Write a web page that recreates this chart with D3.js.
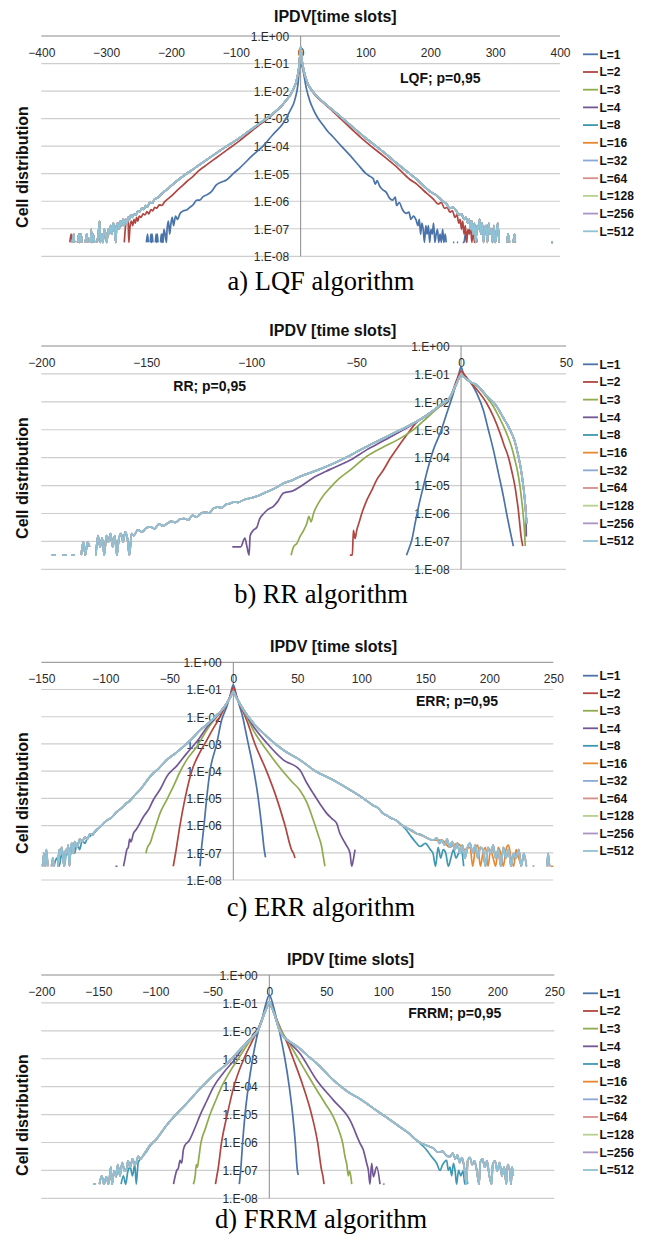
<!DOCTYPE html>
<html>
<head>
<meta charset="utf-8">
<script src="https://cdn.jsdelivr.net/npm/d3@7"></script>
<style>
  body { margin: 0; background: #fff; }
  svg text { font-family: "Liberation Sans", Arial, sans-serif; }
  svg text.caption { font-family: "Liberation Serif", "Times New Roman", serif; }
</style>
</head>
<body>
<script>
// ---- shared labels ----
const legendLabels = ["L=1", "L=2", "L=3", "L=4", "L=8", "L=16", "L=32", "L=64", "L=128", "L=256", "L=512"];
const seriesColors = ["#4a73aa", "#b04642", "#8fab4e", "#725796", "#3f98b3", "#e8872f",
                      "#8aa8d8", "#d68e8b", "#b6d08f", "#a895c4", "#8fc2d4"];
const yTickValues = [1, 1e-1, 1e-2, 1e-3, 1e-4, 1e-5, 1e-6, 1e-7, 1e-8];

// ---- a) LQF : [IPDV, cell distribution], null = no cells ----
const lqfL1 = [[-238,3.2e-8],[-236,6.4e-8],[-235,3.2e-8],[-234,null],[-232,3.2e-8],[-231,6.4e-8],[-230,3.2e-8],[-229,6.4e-8],[-228,3.2e-8],[-227,null],
  [-224,3.2e-8],[-223,6.4e-8],[-222,3.2e-8],[-221,6.4e-8],[-220,3.2e-8],[-219,null],[-216,3.2e-8],[-215,6.4e-8],[-214,3.2e-8],[-213,6.4e-8],[-212,3.2e-8],
  [-211,9.6e-8],[-209,6.4e-8],[-207,3.2e-8],[-206,9.6e-8],[-204,1.9e-7],[-202,6.4e-8],[-200,1.6e-7],[-198,2.6e-7],[-196,1.3e-7],[-193,2.9e-7],[-190,2.2e-7],
  [-186,3.6e-7],[-181,4.5e-7],[-176,4.8e-7],[-171,6e-7],[-166,7.4e-7],[-160,1.1e-6],[-155.6,1.1e-6],[-150,1.5e-6],[-145,1.7e-6],[-138,2.2e-6],[-130,3.9e-6],
  [-122,5e-6],[-114.5,5.9e-6],[-104,1e-5],[-94,1.6e-5],[-73.5,4.8e-5],[-58,1e-4],[-43,2.6e-4],[-27,6.8e-4],[-17,1.8e-3],[-9,4.8e-3],[-4,0.019],[-1.5,0.1],[0,0.4],
  [1.5,0.1],[3.6,0.059],[8.8,0.0126],[14,0.0045],[19,0.0023],[26,1.1e-3],[34.4,5.9e-4],[42,3.4e-4],[49.8,2.2e-4],[62,1.05e-4],[75.5,4.8e-5],[88,2.2e-5],
  [101,1e-5],[107,8e-6],[112,6.6e-6],[115,4.2e-6],[118,5.6e-6],[122,3.5e-6],[126.8,2.6e-6],[132,2.1e-6],[137,1.3e-6],[142,1.1e-6],[146,1.4e-6],[148,7e-7],
  [152,9e-7],[157,5e-7],[162.8,3.6e-7],[167,4e-7],[170,2.2e-7],[174,2.9e-7],[178,2.1e-7],[181,1.3e-7],[183,2.2e-7],[185,6.4e-8],[187,1.6e-7],[189,9.6e-8],
  [191,3.2e-8],[193,1.3e-7],[195,6.4e-8],[197,1.3e-7],[199,3.2e-8],[201,9.6e-8],[203,6.4e-8],[205,1.6e-7],[207,3.2e-8],[209,6.4e-8],[211,9.6e-8],[213,3.2e-8],
  [215,6.4e-8],[217,3.2e-8],[219,9.6e-8],[221,3.2e-8],[223,6.4e-8],[224.5,3.2e-8],[226,null],[235,3.2e-8],[237,3.2e-8],[238,null],[241,3.2e-8],[243,3.2e-8],
  [244,null],[250,3.2e-8],[252,3.2e-8],[254,6.4e-8],[256,3.2e-8]];
const lqfL2 = [[-356,3.2e-8],[-354,6.4e-8],[-352,3.2e-8],[-351,null],[-272,3.2e-8],[-270,1.3e-7],[-268,2.2e-7],[-266,1.6e-7],[-265,3.2e-8],[-263,1.3e-7],
  [-261,1.9e-7],[-259,1.3e-7],[-257,2.2e-7],[-255,1.6e-7],[-253,2.6e-7],[-251,1.9e-7],[-249,2.9e-7],[-246,2.6e-7],[-243,3.5e-7],[-240,3.2e-7],[-237,4.2e-7],
  [-234,3.5e-7],[-231,5e-7],[-228,4.5e-7],[-225,6e-7],[-222,5.6e-7],[-218,7.4e-7],[-214,7e-7],[-210,9.5e-7],[-207,1.1e-6],[-200,1.5e-6],[-192,2.3e-6],
  [-184,3.4e-6],[-176,5.1e-6],[-166,8e-6],[-156,1.35e-5],[-145,2.1e-5],[-130,3.8e-5],[-114,7.2e-5],[-97,1.4e-4],[-80,2.9e-4],[-65,5.6e-4],[-53,9e-4],
  [-43,1.4e-3],[-35,2.1e-3],[-28,3.1e-3],[-22,4.7e-3],[-16,7.1e-3],[-12,0.011],[-8,0.018],[-4,0.044],[-2,0.1],[0,0.4],
  [2,0.13],[3.6,0.075],[8.8,0.024],[19,0.0089],[35,0.0037],[50,0.0018],[75,5e-4],[101,1.4e-4],[127,4.5e-5],[150,1.6e-5],[168,6.3e-6],[180,4e-6],[190,2.4e-6],
  [200,1.5e-6],[206,1.1e-6],[212,8e-7],[217,9e-7],[222,5.5e-7],[226,6e-7],[230,4e-7],[234,4.5e-7],[238,2.6e-7],[241,3.2e-7],[244,1.6e-7],[246,2.2e-7],
  [248,9.6e-8],[250,1.9e-7],[252,6.4e-8],[254,1.3e-7],[256,3.2e-8],[258,9.6e-8],[260,6.4e-8],[262,1.3e-7],[264,3.2e-8],[266,9.6e-8],[268,3.2e-8],[270,6.4e-8],[272,3.2e-8]];
const lqfRest = [[-352,3.2e-8],[-350,6.4e-8],[-349,3.2e-8],[-348,null],[-344,3.2e-8],[-342,6.4e-8],[-341,3.2e-8],[-339,6.4e-8],[-337,3.2e-8],[-336,null],
  [-332,3.2e-8],[-330,6.4e-8],[-328,3.2e-8],[-327,null],[-324,3.2e-8],[-323,9.6e-8],[-322,3.2e-8],[-320,6.4e-8],[-318,3.2e-8],[-317,null],[-314,3.2e-8],
  [-312,6.4e-8],[-310,1.9e-7],[-309,3.2e-8],[-307,6.4e-8],[-305,3.2e-8],[-303,9.6e-8],[-301,6.4e-8],[-299,3.2e-8],[-297,9.6e-8],[-295,6.4e-8],[-293,1.3e-7],
  [-291,6.4e-8],[-289,1.6e-7],[-287,9.6e-8],[-285,3.2e-8],[-284,1.3e-7],[-282,1.6e-7],[-280,9.6e-8],[-278,1.9e-7],[-276,1.3e-7],[-274,2.2e-7],[-272,1.3e-7],
  [-270,2.2e-7],[-268,1.6e-7],[-266,2.6e-7],[-264,2.2e-7],[-262,3.2e-7],[-260,2.6e-7],[-257,3.5e-7],[-254,3.2e-7],[-251,4.5e-7],[-248,4.2e-7],[-245,5.5e-7],
  [-242,5e-7],[-239,7e-7],[-236,6.3e-7],[-233,9e-7],[-229,8.5e-7],[-225,1.2e-6],[-221,1.3e-6],[-216,1.7e-6],[-211,2.2e-6],[-206,2.7e-6],[-200,3.6e-6],
  [-192,5.2e-6],[-184,7.3e-6],[-176,1e-5],[-165,1.5e-5],[-155,2.2e-5],[-145,3.2e-5],[-130,5.6e-5],[-114,1e-4],[-97,1.8e-4],[-80,3.5e-4],[-65,6.3e-4],
  [-53,1e-3],[-43,1.5e-3],[-35,2.2e-3],[-28,3.2e-3],[-22,4.8e-3],[-16,7.2e-3],[-12,0.011],[-8,0.018],[-4,0.044],[-2,0.1],[0,0.4],
  [2,0.13],[3.6,0.078],[8.8,0.025],[19,0.0095],[35,0.004],[50,0.002],[75,6.3e-4],[101,1.9e-4],[127,6.3e-5],[150,2.2e-5],[168,1e-5],[180,6e-6],[190,3.5e-6],
  [200,2.2e-6],[210,1.6e-6],[219,1e-6],[225,8e-7],[230,5.5e-7],[235,6e-7],[240,4.5e-7],[244,3.2e-7],[248,3.5e-7],[252,2.2e-7],[255,2.6e-7],[258,1.6e-7],
  [260,2.2e-7],[262,9.6e-8],[264,1.9e-7],[266,6.4e-8],[268,1.6e-7],[270,3.2e-8],[272,1.3e-7],[274,9.6e-8],[276,2.2e-7],[278,6.4e-8],[280,1.6e-7],[282,3.2e-8],
  [284,9.6e-8],[286,1.3e-7],[288,3.2e-8],[290,1.6e-7],[292,6.4e-8],[294,9.6e-8],[296,3.2e-8],[298,1.3e-7],[300,3.2e-8],[302,6.4e-8],[304,1.6e-7],[306,3.2e-8],
  [307,null],[318,3.2e-8],[320,6.4e-8],[322,3.2e-8],[323,null],[328,3.2e-8],[330,6.4e-8],[331,3.2e-8],[332,null],[387,3.2e-8],[389,3.2e-8]];

// ---- b) RR ----
const rrL1 = [[-26,3.2e-8],[-24.5,6.4e-8],[-23.5,1.1e-7],[-21.9,4.4e-7],[-20.3,1.7e-6],[-18,9.1e-6],[-15.6,4.7e-5],[-13.2,1.9e-4],[-10,7.4e-4],
  [-6.8,3.9e-3],[-3.7,0.02],[-1.3,0.081],[0,0.18],[1,0.11],[2.5,0.07],[4.3,0.052],[7.5,0.02],[10.6,5.1e-3],[13,1e-3],[15.4,1.9e-4],[17.8,2.8e-5],
  [20.2,4e-6],[21.7,1e-6],[23.3,2.5e-7],[24.9,6.8e-8]];
const rrL2 = [[-53,3.2e-8],[-51.8,3.2e-8],[-51.3,2.5e-7],[-50.5,1.26e-7],[-49.7,2.5e-7],[-48.5,5e-7],[-47.3,1e-6],[-44.9,3e-6],[-42.5,6.9e-6],
  [-40.2,1.6e-5],[-37,3.6e-5],[-33.8,9.3e-5],[-30.6,2.1e-4],[-26,6.3e-4],[-21,1.9e-3],[-16,3.5e-3],[-12,5.6e-3],[-8,8.9e-3],[-5.2,0.014],[-2,0.063],
  [0,0.126],[2,0.085],[4.3,0.052],[8,0.025],[12.2,8.9e-3],[15.4,3e-3],[18.6,7.4e-4],[20.5,2.8e-4],[22.5,1.07e-4],[24.2,3.2e-5],[25.7,9.1e-6],[26.6,3.2e-6],
  [27.3,1.3e-6],[28,4e-7],[28.6,1.5e-7],[29.4,6.8e-8]];
const rrL3 = [[-81,3.2e-8],[-79.8,6.4e-8],[-78.2,8.5e-8],[-76.7,1.5e-7],[-75,2.5e-7],[-73.5,4.4e-7],[-72.5,7.9e-7],[-71.5,5e-7],[-70.3,1e-6],
  [-67.1,3e-6],[-62,9e-6],[-58,1.8e-5],[-53,3.5e-5],[-45,1.1e-4],[-37,2.4e-4],[-29,4.9e-4],[-22,1.1e-3],[-16,2.8e-3],[-10,7e-3],[-5.2,0.014],[-2.1,0.046],
  [0,0.091],[2,0.07],[4.3,0.052],[8,0.035],[11.5,0.017],[15.4,6.8e-3],[18.5,2.5e-3],[21.7,7.4e-4],[24,2.5e-4],[25.7,8.1e-5],[27,3e-5],[28.1,9.1e-6],
  [29,2.5e-6],[29.7,7.6e-7],[30.2,2.5e-7],[30.6,6.8e-8]];
const rrL4 = [[-109,6.4e-8],[-105,6.4e-8],[-103,1.3e-7],[-102,6.4e-8],[-101,3.2e-8],[-100.5,1.6e-7],[-99,2.5e-7],[-97.3,3.2e-7],[-96,6.3e-7],
  [-94,1e-6],[-92,1.4e-6],[-89.4,1.8e-6],[-87.5,2.6e-6],[-84.6,5.4e-6],[-80,6.5e-6],[-76.7,9.1e-6],[-70,2e-5],[-62.4,3.8e-5],[-53,8e-5],[-45,1.9e-4],
  [-37,4e-4],[-29,8.7e-4],[-22.7,1.6e-3],[-16.3,3.3e-3],[-10,7.6e-3],[-5.2,0.015],[-2.1,0.046],[0,0.091],[2,0.07],[4.3,0.052],[7.5,0.04],[12,0.017],
  [17,6.8e-3],[20,2.8e-3],[23.3,1e-3],[25.5,4e-4],[27.3,1.15e-4],[28.5,4e-5],[29.7,9e-6],[30.5,2.5e-6],[30.9,1e-6],[31.1,1.5e-7]];
const rrRest = [[-195,3.2e-8],[-193,3.2e-8],[-192,null],[-190,3.2e-8],[-188,3.2e-8],[-187,null],[-185.5,3.2e-8],[-184,3.2e-8],[-183,null],
  [-181,3.2e-8],[-180,9.6e-8],[-179,3.2e-8],[-178,9.6e-8],[-177,6.4e-8],[-176,null],[-174,3.2e-8],[-173,1.6e-7],[-172,6.4e-8],[-171,1.3e-7],[-170,3.2e-8],
  [-169,1.6e-7],[-168,9.6e-8],[-167,1.9e-7],[-166,6.4e-8],[-165,1.6e-7],[-164,3.2e-8],[-163,1.3e-7],[-162,1.9e-7],[-161,9.6e-8],[-160,2.2e-7],[-159,1.3e-7],
  [-158,3.2e-8],[-157,1.9e-7],[-156,1.6e-7],[-154,2.6e-7],[-152,2.2e-7],[-150,3e-7],[-148,3.3e-7],[-146,2.8e-7],[-144,4.2e-7],[-142,3.6e-7],[-140,4.4e-7],
  [-138,5.2e-7],[-136,4.8e-7],[-134,6.2e-7],[-132,6.6e-7],[-130,5.8e-7],[-128,8.5e-7],[-126,7.5e-7],[-124,1e-6],[-122,1.1e-6],[-120,1.05e-6],[-118,1.5e-6],
  [-116,1.7e-6],[-114,1.6e-6],[-112,2.1e-6],[-110,2.3e-6],[-108,2.6e-6],[-106,2.5e-6],[-104,3e-6],[-100.5,3.5e-6],[-96,4.5e-6],[-92.5,6e-6],[-88,8.5e-6],
  [-84.6,1.2e-5],[-80,1.6e-5],[-76.7,2.1e-5],[-68.7,3.5e-5],[-60.8,6.2e-5],[-52.9,1.2e-4],[-44.9,2.5e-4],[-37,4.9e-4],[-29,9.8e-4],[-22.7,1.7e-3],
  [-16.3,3.3e-3],[-10,7.6e-3],[-5.2,0.015],[-2.1,0.046],[0,0.091],[2,0.07],[4.3,0.052],[7.5,0.04],[12,0.017],[17,6.8e-3],[20,2.8e-3],[23.3,1e-3],
  [25.5,4e-4],[27.3,1.15e-4],[28.5,4e-5],[29.7,9e-6],[30.5,2.5e-6],[30.9,1e-6],[31.3,4.4e-7]];

// ---- c) ERR ----
const errL1 = [[-26,3.2e-8],[-25.2,9.6e-8],[-22.9,1e-6],[-20.8,1e-5],[-18.2,1e-4],[-13,1e-3],[-9.1,7.6e-3],[-5.2,0.023],[-2.6,0.055],[0,0.15],
  [2.6,0.055],[5.2,0.022],[7.3,0.01],[9.5,3.2e-3],[11.7,1e-3],[16.1,1e-4],[19.5,1e-5],[22.1,1e-6],[24.2,1.26e-7],[25.2,6.8e-8]];
const errL2 = [[-46.9,3.2e-8],[-45.1,9.6e-8],[-41.7,1e-6],[-37.7,1e-5],[-32.5,1e-4],[-26,5e-4],[-21,1.3e-3],[-16,3.5e-3],[-11.7,7.6e-3],[-5.2,0.03],
  [-2.6,0.055],[0,0.12],[2.6,0.055],[5.2,0.028],[10.4,7.6e-3],[16.9,1e-3],[26,1e-4],[33.9,1e-5],[40.4,1e-6],[45.6,1.26e-7],[47,9.6e-8],[48.2,6.4e-8]];
const errL3 = [[-68.2,9.6e-8],[-67.7,1.26e-7],[-66.5,1.8e-7],[-65.1,2.2e-7],[-62.5,5.2e-7],[-59.9,1.2e-6],[-57.3,2.8e-6],[-52.1,8.7e-6],[-46.9,2.7e-5],
  [-41.6,9.5e-5],[-36.4,2.6e-4],[-28.6,7.9e-4],[-20,3.6e-3],[-13,0.01],[-8,0.02],[-4,0.038],[0,0.083],[2,0.055],[4,0.037],[8,0.017],[15.6,3.2e-3],
  [26,6e-4],[39,9.5e-5],[46,4e-5],[52,2e-5],[57.5,7e-6],[62.5,1.6e-6],[66,5e-7],[69,1.7e-7],[70.5,6.4e-8],[71.6,3.2e-8]];
const errL4 = [[-92,3.2e-8],[-90.5,3.2e-8],[-89.5,null],[-85.8,3.2e-8],[-84.5,6.4e-8],[-83.2,1.3e-7],[-82,1.6e-7],[-81,3.2e-7],[-80,2.5e-7],
  [-78,5.2e-7],[-76,7e-7],[-74,1e-6],[-70.2,2.1e-6],[-66,4e-6],[-62.4,8.9e-6],[-57,2.2e-5],[-52,6.3e-5],[-44,1.6e-4],[-36.4,4.5e-4],[-28,1.3e-3],
  [-20,4.5e-3],[-13,0.01],[-8,0.02],[-4,0.038],[0,0.083],[4,0.037],[8,0.018],[15.6,4.5e-3],[26,1.1e-3],[39,2.6e-4],[52,1.1e-4],[57,4e-5],[62.5,1.5e-5],
  [68,6e-6],[73,2.8e-6],[77,1.8e-6],[80.8,1.2e-6],[83,5.6e-7],[85.9,3e-7],[88,2e-7],[91.2,9.6e-8],[92.5,3.2e-8],[94,6.4e-8],[95.1,1.3e-7]];
const errLeftTail = [[-149,3.2e-8],[-148,9.6e-8],[-147,3.2e-8],[-146,1.3e-7],[-145,3.2e-8],[-144,null],[-142,3.2e-8],[-141,6.4e-8],[-140,3.2e-8],
  [-139,null],[-137,3.2e-8],[-136,1.3e-7],[-135,9.6e-8],[-134,1.6e-7],[-133,6.4e-8],[-132,3.2e-8],[-131,1.3e-7],[-130,9.6e-8],[-129,1.9e-7],[-128,3.2e-8],
  [-127,1.6e-7],[-126,2.2e-7],[-125,9.6e-8],[-124,2.6e-7],[-122,1.6e-7],[-120,3.2e-7],[-118,2.6e-7],[-116,3.8e-7],[-114,3.2e-7],[-112,5e-7],[-110,4.5e-7],
  [-108,6.3e-7]];
const errTealLeft = [[-140,3.2e-8],[-138,6.4e-8],[-136,3.2e-8],[-134,9.6e-8],[-132,3.2e-8],[-130,1.3e-7],[-128,6.4e-8],[-126,1.6e-7],[-124,9.6e-8],
  [-122,2.2e-7],[-120,1.3e-7],[-118,2.9e-7],[-116,2.2e-7],[-114,3.5e-7],[-112,4e-7],[-110,5e-7],[-108,5.8e-7]];
const errCore = [[-106,7.5e-7],[-104,9e-7],[-100,1.4e-6],[-95,2e-6],[-91,3.2e-6],[-87,4.5e-6],[-83,6.9e-6],[-81,8e-6],[-78,1.15e-5],[-72,2.3e-5],
  [-65,6.3e-5],[-58,1.3e-4],[-52,2.6e-4],[-45,4.6e-4],[-39,7.9e-4],[-32,1.6e-3],[-26,3.2e-3],[-20,5.5e-3],[-13,0.011],[-8,0.02],[-4,0.038],[-2,0.055],
  [0,0.083],[2,0.055],[4,0.037],[8,0.018],[15.6,5.8e-3],[26,1.9e-3],[39,6e-4],[52,2.6e-4],[65,9.5e-5],[78,4.7e-5],[90,2.2e-5],[101.6,1e-5],[109,5.6e-6],
  [113,4.5e-6],[117,2.8e-6],[121,2.2e-6],[124,1.8e-6],[127,1.6e-6],[130,1.2e-6]];
const errRightTail = [[134,9e-7],[137,7.5e-7],[140,6.5e-7],[143,5.1e-7],[146,4.8e-7],[150,3.8e-7],[153,3.2e-7],[156,2.9e-7],[159,3.5e-7],[161,2.2e-7],
  [163,2.9e-7],[165,1.9e-7],[167,3.2e-7],[169,1.6e-7],[171,2.6e-7],[173,1.3e-7],[175,2.2e-7],[177,9.6e-8],[179,1.9e-7],[181,6.4e-8],[183,1.6e-7],[185,2.2e-7],
  [187,9.6e-8],[189,1.9e-7],[191,6.4e-8],[193,1.6e-7],[195,1.3e-7],[197,3.2e-8],[199,1.6e-7],[201,9.6e-8],[203,1.9e-7],[205,6.4e-8],[207,1.3e-7],[209,3.2e-8],
  [211,1.6e-7],[213,6.4e-8],[215,1.3e-7],[217,3.2e-8],[219,9.6e-8],[221,6.4e-8],[223,1.3e-7],[225,3.2e-8],[227,9.6e-8],[229,3.2e-8],[230,null],[234,3.2e-8],
  [235,3.2e-8],[236,null],[245,3.2e-8],[246,9.6e-8],[247,3.2e-8]];
const errTealRight = [[134,8e-7],[138,4.5e-7],[142,2.6e-7],[146,1.7e-7],[150,2.2e-7],[154,1.3e-7],[156,9.6e-8],[158,3.2e-8],[160,1.6e-7],[162,6.4e-8],
  [164,1.3e-7],[166,9.6e-8],[168,3.2e-8],[170,6.4e-8],[172,1.3e-7],[174,6.4e-8],[176,9.6e-8],[178,1.3e-7],[180,3.2e-8]];
const errOrangeRight = [[134,9e-7],[143,5.1e-7],[150,3.8e-7],[156,2.9e-7],[163,2.9e-7],[169,1.6e-7],[175,2.2e-7],[181,1.3e-7],[185,1.6e-7],[187,3.2e-8],
  [189,1.3e-7],[191,1.9e-7],[193,3.2e-8],[195,9.6e-8],[197,1.6e-7],[199,3.2e-8],[201,1.3e-7],[203,6.4e-8],[205,3.2e-8],[207,1.6e-7],[209,9.6e-8],[211,3.2e-8],
  [213,1.3e-7],[215,1.9e-7],[217,6.4e-8],[219,3.2e-8],[221,1.3e-7],[223,6.4e-8],[225,3.2e-8],[226,null],[248,3.2e-8],[250,3.2e-8]];

// ---- d) FRRM ----
const frrmL1 = [[-26.3,3.2e-8],[-25.1,1e-7],[-23.4,1e-6],[-21.3,1e-5],[-18.4,1e-4],[-14.6,1e-3],[-9.6,0.01],[-6.5,0.025],[-3.8,0.07],[0,0.19],
  [3.8,0.07],[6.5,0.025],[8.8,0.01],[13.7,1e-3],[17.5,1e-4],[20.5,1e-5],[22.8,1e-6],[24.6,1e-7],[25.5,6.8e-8]];
const frrmL2 = [[-47.2,3.2e-8],[-46,6.4e-8],[-45.1,1e-7],[-41.9,1e-6],[-36.9,1e-5],[-31.1,1e-4],[-22.3,1e-3],[-16,3.5e-3],[-10.6,0.01],[-4,0.045],
  [0,0.11],[4,0.045],[10.8,0.01],[16,3.5e-3],[21,1e-3],[29.8,1e-4],[37.1,1e-5],[42.4,1e-6],[45.9,1e-7],[47,6.4e-8],[48,3.2e-8]];
const frrmL3 = [[-66.6,3.2e-8],[-65,6.4e-8],[-64,1.6e-7],[-63,1.3e-7],[-62,2.5e-7],[-59.9,1e-6],[-56,3.2e-6],[-52,1e-5],[-47,3.2e-5],[-41.8,1e-4],
  [-35,3.2e-4],[-27.2,1e-3],[-18,3.8e-3],[-10,0.011],[-4,0.045],[0,0.11],[4,0.045],[10,0.011],[17,3.8e-3],[26.9,7.8e-4],[34,2.5e-4],[41.6,7.6e-5],
  [49,2.5e-5],[56.2,8.3e-6],[62,2.1e-6],[64.5,9e-7],[66.4,3.1e-7],[68,1.6e-7],[69.3,6.4e-8],[70.5,9.6e-8],[72.3,3.2e-8]];
const frrmL4 = [[-84,3.2e-8],[-82.7,5.9e-8],[-81.2,1e-7],[-79.8,1.2e-7],[-78.3,2.3e-7],[-76.9,1.8e-7],[-75.4,5.4e-7],[-73.9,8.1e-7],[-70.7,1.1e-6],
  [-65,3.5e-6],[-60.5,1e-5],[-55,3e-5],[-48.8,1e-4],[-40,3.2e-4],[-29.8,1e-3],[-20,3.8e-3],[-10,0.011],[-4,0.045],[0,0.11],[4,0.045],[8.8,0.011],
  [15,5e-3],[26.9,1.55e-3],[41.6,1.7e-4],[56.2,3.3e-5],[70.8,6.3e-6],[79.6,9.3e-7],[82.5,5.4e-7],[85.4,1.8e-7],[86.9,1e-7],[88.3,3.2e-8],[89.8,1.8e-7],
  [91.3,5.9e-8],[94.2,1.35e-7],[97.1,3.2e-8],[98.5,null],[100,3.2e-8],[101,3.2e-8]];
const frrmLeftTail = [[-154.3,3.2e-8],[-152,3.2e-8],[-151,null],[-149,3.2e-8],[-147,6.4e-8],[-145,3.2e-8],[-143,5.9e-8],[-141,3.2e-8],[-139,1.3e-7],
  [-138,3.2e-8],[-136,9.6e-8],[-134.3,5.9e-8],[-133,1.6e-7],[-131,6.4e-8],[-129,1.9e-7],[-127,9.6e-8],[-125.5,1e-7],[-124,2.2e-7],[-122,1.3e-7],[-120,2.6e-7],
  [-118,1.6e-7],[-116.7,1.9e-7],[-115,3.2e-7],[-113,2.6e-7],[-110.9,3.3e-7],[-108,5e-7],[-105,7.6e-7]];
const frrmTealLeft = [[-130,3.2e-8],[-128,6.4e-8],[-126,3.2e-8],[-124,9.6e-8],[-122,1.3e-7],[-120,6.4e-8],[-118,1.6e-7],[-116.7,3.2e-8],[-115,1.9e-7],
  [-113,2.6e-7],[-110.9,3.3e-7],[-108,4.5e-7],[-105,7e-7]];
const frrmCore = [[-102,1e-6],[-99.1,1.3e-6],[-95,2.2e-6],[-90.4,4e-6],[-83,9e-6],[-75.8,1.8e-5],[-68,4e-5],[-61.2,8.1e-5],[-54,1.6e-4],[-46.6,3.2e-4],
  [-40,5.2e-4],[-32,1.1e-3],[-24,2.5e-3],[-14.4,6.2e-3],[-9.6,0.011],[-4,0.045],[-2,0.07],[0,0.11],[2,0.07],[4,0.045],[8.8,0.011],[12.3,6.2e-3],
  [18,4.1e-3],[26.9,2.3e-3],[34,1.25e-3],[41.6,6.8e-4],[49,3.4e-4],[56.2,1.7e-4],[63,1e-4],[70.8,5.8e-5],[78,4e-5],[85.4,2.5e-5],[92,1.6e-5],[100,9.5e-6],
  [107,6e-6],[114.6,3.6e-6],[122,2.2e-6],[129.2,1.2e-6]];
const frrmRightTail = [[134,9e-7],[138,7.8e-7],[143.9,6.2e-7],[148,4.5e-7],[152,4.8e-7],[155,3.5e-7],[158.5,3.1e-7],[161,4.2e-7],[163,2.6e-7],[165,3.5e-7],
  [167,1.9e-7],[169,2.9e-7],[171,1.3e-7],[173,3.2e-8],[174,2.2e-7],[176,2.9e-7],[178,1.6e-7],[180,2.2e-7],[182,9.6e-8],[184,3.2e-8],[185,1.9e-7],[187,2.6e-7],
  [189,1.3e-7],[191,2.2e-7],[193,6.4e-8],[195,3.2e-8],[196,1.6e-7],[198,2.2e-7],[200,9.6e-8],[202,1.9e-7],[204,6.4e-8],[206,1.3e-7],[208,3.2e-8],[209,1.6e-7],
  [211,9.6e-8],[212,3.2e-8],[213,1.3e-7],[214,6.4e-8]];
const frrmTealRight = [[134,8e-7],[138,5.4e-7],[142,3.2e-7],[146.8,1.8e-7],[149.8,1e-7],[152,1.6e-7],[155.6,2.3e-7],[157,1e-7],[158.5,1.3e-7],[160,6.4e-8],
  [161.5,1.8e-7],[163,9.6e-8],[164.3,3.2e-8],[166,1e-7],[168,6.4e-8],[170,9.6e-8],[171.5,3.2e-8],[173,6.4e-8],[174,3.2e-8]];

// series lists in legend order
const errBundle = [...errLeftTail, ...errCore, ...errRightTail];
const frrmBundle = [...frrmLeftTail, ...frrmCore, ...frrmRightTail];
const lqfSeries = [lqfL1, lqfL2, lqfRest, lqfRest, lqfRest, lqfRest, lqfRest, lqfRest, lqfRest, lqfRest, lqfRest];
const rrSeries = [rrL1, rrL2, rrL3, rrL4, rrRest, rrRest, rrRest, rrRest, rrRest, rrRest, rrRest];
const errSeries = [errL1, errL2, errL3, errL4, [...errTealLeft, ...errCore, ...errTealRight],
  [...errLeftTail, ...errCore, ...errOrangeRight], errBundle, errBundle, errBundle, errBundle, errBundle];
const frrmSeries = [frrmL1, frrmL2, frrmL3, frrmL4, [...frrmTealLeft, ...frrmCore, ...frrmTealRight],
  frrmBundle, frrmBundle, frrmBundle, frrmBundle, frrmBundle, frrmBundle];

// ---- panel layout ----
const panels = [
  { top: 36, bottom: 256.3, left: 41.3, right: 560, domain: [-400, 400],
    xTicks: [-400, -300, -200, -100, 0, 100, 200, 300, 400],
    title: "IPDV[time slots]", titleX: 274, titleY: 22,
    note: "LQF; p=0,95", noteX: 400, noteY: 82.5, yTitleY: 167,
    legendTop: 54.3, legendStep: 17.7, caption: "a) LQF algorithm", captionY: 290, series: lqfSeries },
  { top: 346, bottom: 569.3, left: 41.3, right: 566, domain: [-200, 50],
    xTicks: [-200, -150, -100, -50, 0, 50],
    title: "IPDV [time slots]", titleX: 269.3, titleY: 336.3,
    note: "RR; p=0,95", noteX: 173.3, noteY: 391, yTitleY: 478,
    legendTop: 364.3, legendStep: 17.67, caption: "b) RR algorithm", captionY: 602.5, series: rrSeries },
  { top: 662.3, bottom: 880, left: 41.3, right: 553.3, domain: [-150, 250],
    xTicks: [-150, -100, -50, 0, 50, 100, 150, 200, 250],
    title: "IPDV [time slots]", titleX: 270, titleY: 652.3,
    note: "ERR; p=0,95", noteX: 416, noteY: 706, yTitleY: 793,
    legendTop: 675.7, legendStep: 17.53, caption: "c) ERR algorithm", captionY: 916, series: errSeries },
  { top: 975, bottom: 1198.3, left: 41.3, right: 554.3, domain: [-200, 250],
    xTicks: [-200, -150, -100, -50, 0, 50, 100, 150, 200, 250],
    title: "IPDV [time slots]", titleX: 287, titleY: 964.5,
    note: "FRRM; p=0,95", noteX: 408.3, noteY: 1018, yTitleY: 1115,
    legendTop: 993.3, legendStep: 17.67, caption: "d) FRRM algorithm", captionY: 1228.3, series: frrmSeries }
];

const svg = d3.select("body").append("svg").attr("width", 646).attr("height", 1238);

const fmtE = d => {
  const e = Math.round(Math.log10(d));
  return "1.E" + (e < 0 ? "-" : "+") + String(Math.abs(e)).padStart(2, "0");
};

panels.forEach(p => {
  const x = d3.scaleLinear().domain(p.domain).range([p.left, p.right]);
  const y = d3.scaleLog().domain([1, 1e-8]).range([p.top, p.bottom]);
  const g = svg.append("g");

  // horizontal gridlines
  g.selectAll("line.grid").data(yTickValues.slice(1)).join("line")
    .attr("class", "grid")
    .attr("x1", p.left).attr("x2", p.right)
    .attr("y1", d => y(d)).attr("y2", d => y(d))
    .attr("stroke", "#cdcdcd").attr("stroke-width", 1.2);

  // axis lines (top and at zero)
  g.append("line").attr("x1", p.left).attr("x2", p.right)
    .attr("y1", p.top).attr("y2", p.top)
    .attr("stroke", "#8a8a8a").attr("stroke-width", 1);
  g.append("line").attr("x1", x(0)).attr("x2", x(0))
    .attr("y1", p.top).attr("y2", p.bottom)
    .attr("stroke", "#8a8a8a").attr("stroke-width", 1);

  // x labels
  g.append("g").attr("transform", `translate(0,${p.top})`)
    .call(d3.axisBottom(x).tickValues(p.xTicks).tickSize(0).tickPadding(12))
    .call(a => a.select(".domain").remove())
    .attr("font-size", 12)
    .selectAll("text").attr("fill", "#2a2a2a");

  // y labels
  g.append("g").attr("transform", `translate(${x(0)},0)`)
    .call(d3.axisLeft(y).tickValues(yTickValues).tickFormat(fmtE).tickSize(0).tickPadding(11.5))
    .call(a => a.select(".domain").remove())
    .attr("font-size", 12)
    .selectAll("text").attr("fill", "#2a2a2a").attr("dy", "0.36em");

  // series
  const line = d3.line()
    .defined(d => d[1] != null)
    .x(d => x(d[0]))
    .y(d => y(d[1]))
    .curve(d3.curveMonotoneX);
  p.series.forEach((s, i) => {
    g.append("path").attr("d", line(s))
      .attr("fill", "none").attr("stroke", seriesColors[i])
      .attr("stroke-width", 1.7).attr("stroke-linejoin", "round");
  });

  // titles
  g.append("text").attr("x", p.titleX).attr("y", p.titleY)
    .attr("font-size", 16).attr("font-weight", "bold").attr("fill", "#111")
    .text(p.title);
  g.append("text").attr("transform", `translate(28,${p.yTitleY}) rotate(-90)`)
    .attr("text-anchor", "middle")
    .attr("font-size", 16).attr("font-weight", "bold").attr("fill", "#111")
    .text("Cell distribution");
  g.append("text").attr("x", p.noteX).attr("y", p.noteY)
    .attr("font-size", 14).attr("font-weight", "bold").attr("fill", "#111")
    .text(p.note);

  // legend
  const leg = g.selectAll("g.leg").data(legendLabels).join("g")
    .attr("class", "leg")
    .attr("transform", (d, i) => `translate(0,${p.legendTop + i * p.legendStep})`);
  leg.append("line").attr("x1", 583).attr("x2", 598).attr("y1", 0).attr("y2", 0)
    .attr("stroke", (d, i) => seriesColors[i]).attr("stroke-width", 1.8);
  leg.append("text").attr("x", 599.5).attr("y", 4.3)
    .attr("font-size", 12).attr("font-weight", "bold").attr("fill", "#111")
    .text(d => d);

  // caption (serif, like the paper's figure text)
  g.append("text").attr("class", "caption")
    .attr("x", 321).attr("y", p.captionY)
    .attr("text-anchor", "middle")
    .attr("font-size", 26.5).attr("fill", "#000")
    .text(p.caption);
});
</script>
</body>
</html>
